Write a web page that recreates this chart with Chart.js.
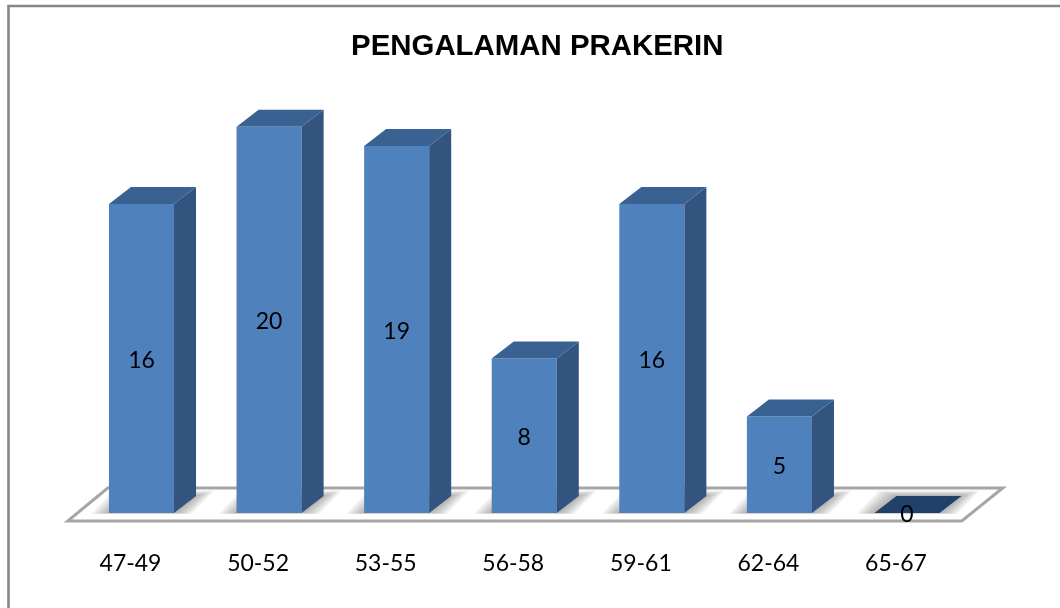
<!DOCTYPE html>
<html><head><meta charset="utf-8">
<style>html,body{margin:0;padding:0;background:#fff}#w{width:1060px;height:608px}</style>
<script src="https://cdn.jsdelivr.net/npm/chart.js@4"></script>
</head><body><div id="w"><canvas id="c"></canvas></div>
<script>
const categories = ['47-49','50-52','53-55','56-58','59-61','62-64','65-67'];
const counts = [16,20,19,8,16,5,0];
const chartTitle = 'PENGALAMAN PRAKERIN';
const depthX = 22, depthY = 17;

function poly(ctx, pts){ctx.beginPath();pts.forEach((p,i)=>i?ctx.lineTo(p[0],p[1]):ctx.moveTo(p[0],p[1]));ctx.closePath();}

const scene = {
  id:'scene',
  afterLayout(chart){ chart.titleBlock.left += 13; chart.titleBlock.right += 13; },
  beforeDraw(chart){
    const ctx=chart.ctx;
    ctx.save();
    ctx.strokeStyle='#868686';ctx.lineWidth=2.6;
    ctx.beginPath();ctx.moveTo(8.5,608);ctx.lineTo(8.5,6);ctx.lineTo(1060,6);ctx.stroke();
    ctx.restore();
  },
  beforeDatasetsDraw(chart){
    const ctx=chart.ctx,a=chart.chartArea,b=a.bottom;
    const floor=[[a.left-10,b+8],[a.right-9,b+8],[a.right+32,b-25],[a.left+30,b-25]];
    ctx.save();
    poly(ctx,floor);ctx.fillStyle='#fff';ctx.fill();
    ctx.save();poly(ctx,floor);ctx.clip();
    chart.getDatasetMeta(0).data.forEach(bar=>{
      const l=bar.x-bar.width/2,r=bar.x+bar.width/2;
      for(let e=18;e>=0;e-=2){
        const up=depthY+e*0.3, low=b+e*0.05;
        poly(ctx,[[l-e,low],[r+e,low],[r+depthX+e,b-up],[l+depthX-e,b-up]]);
        ctx.fillStyle='rgba(100,100,100,.065)';ctx.fill();
      }
    });
    ctx.restore();
    poly(ctx,floor);ctx.strokeStyle='#a6a6a6';ctx.lineWidth=3;ctx.lineJoin='miter';ctx.stroke();
    ctx.restore();
  },
  afterDatasetsDraw(chart){
    const ctx=chart.ctx,b=chart.chartArea.bottom;
    ctx.save();
    chart.getDatasetMeta(0).data.forEach((bar,i)=>{
      const l=bar.x-bar.width/2,r=bar.x+bar.width/2,t=bar.y;
      const zero=counts[i]===0;
      if(!zero){
        poly(ctx,[[r,t],[r+depthX,t-depthY],[r+depthX,b-depthY],[r,b]]);
        ctx.fillStyle='#32547f';ctx.fill();
      }
      poly(ctx,[[l,t],[r,t],[r+depthX,t-depthY],[l+depthX,t-depthY]]);
      ctx.fillStyle=zero?'#21406a':'#396293';ctx.fill();
    });
    ctx.fillStyle='#000';ctx.font='23px Lato';ctx.textAlign='center';ctx.textBaseline='middle';
    chart.getDatasetMeta(0).data.forEach((bar,i)=>{
      ctx.fillText(String(counts[i]),bar.x,(bar.y+b)/2+2);
    });
    ctx.restore();
  }
};

new Chart(document.getElementById('c'),{
  type:'bar',
  data:{labels:categories,datasets:[{data:counts,backgroundColor:'#4f81bd',borderWidth:0,categoryPercentage:1,barPercentage:0.51}]},
  options:{
    responsive:true,maintainAspectRatio:false,animation:false,
    layout:{padding:{left:77.7,right:89.2,top:0,bottom:0}},
    plugins:{
      legend:{display:false},tooltip:{enabled:false},
      title:{display:true,text:chartTitle,color:'#000',font:{family:'"Liberation Sans"',size:29.4,weight:'bold'},padding:{top:29,bottom:62.5}}
    },
    scales:{
      x:{grid:{display:false},border:{display:false},
         ticks:{color:'#000',font:{family:'Lato',size:23},padding:29,labelOffset:-11,maxRotation:0},
         afterFit(s){s.height=95;}},
      y:{display:false,min:0,max:20}
    }
  },
  plugins:[scene]
});
</script></body></html>
